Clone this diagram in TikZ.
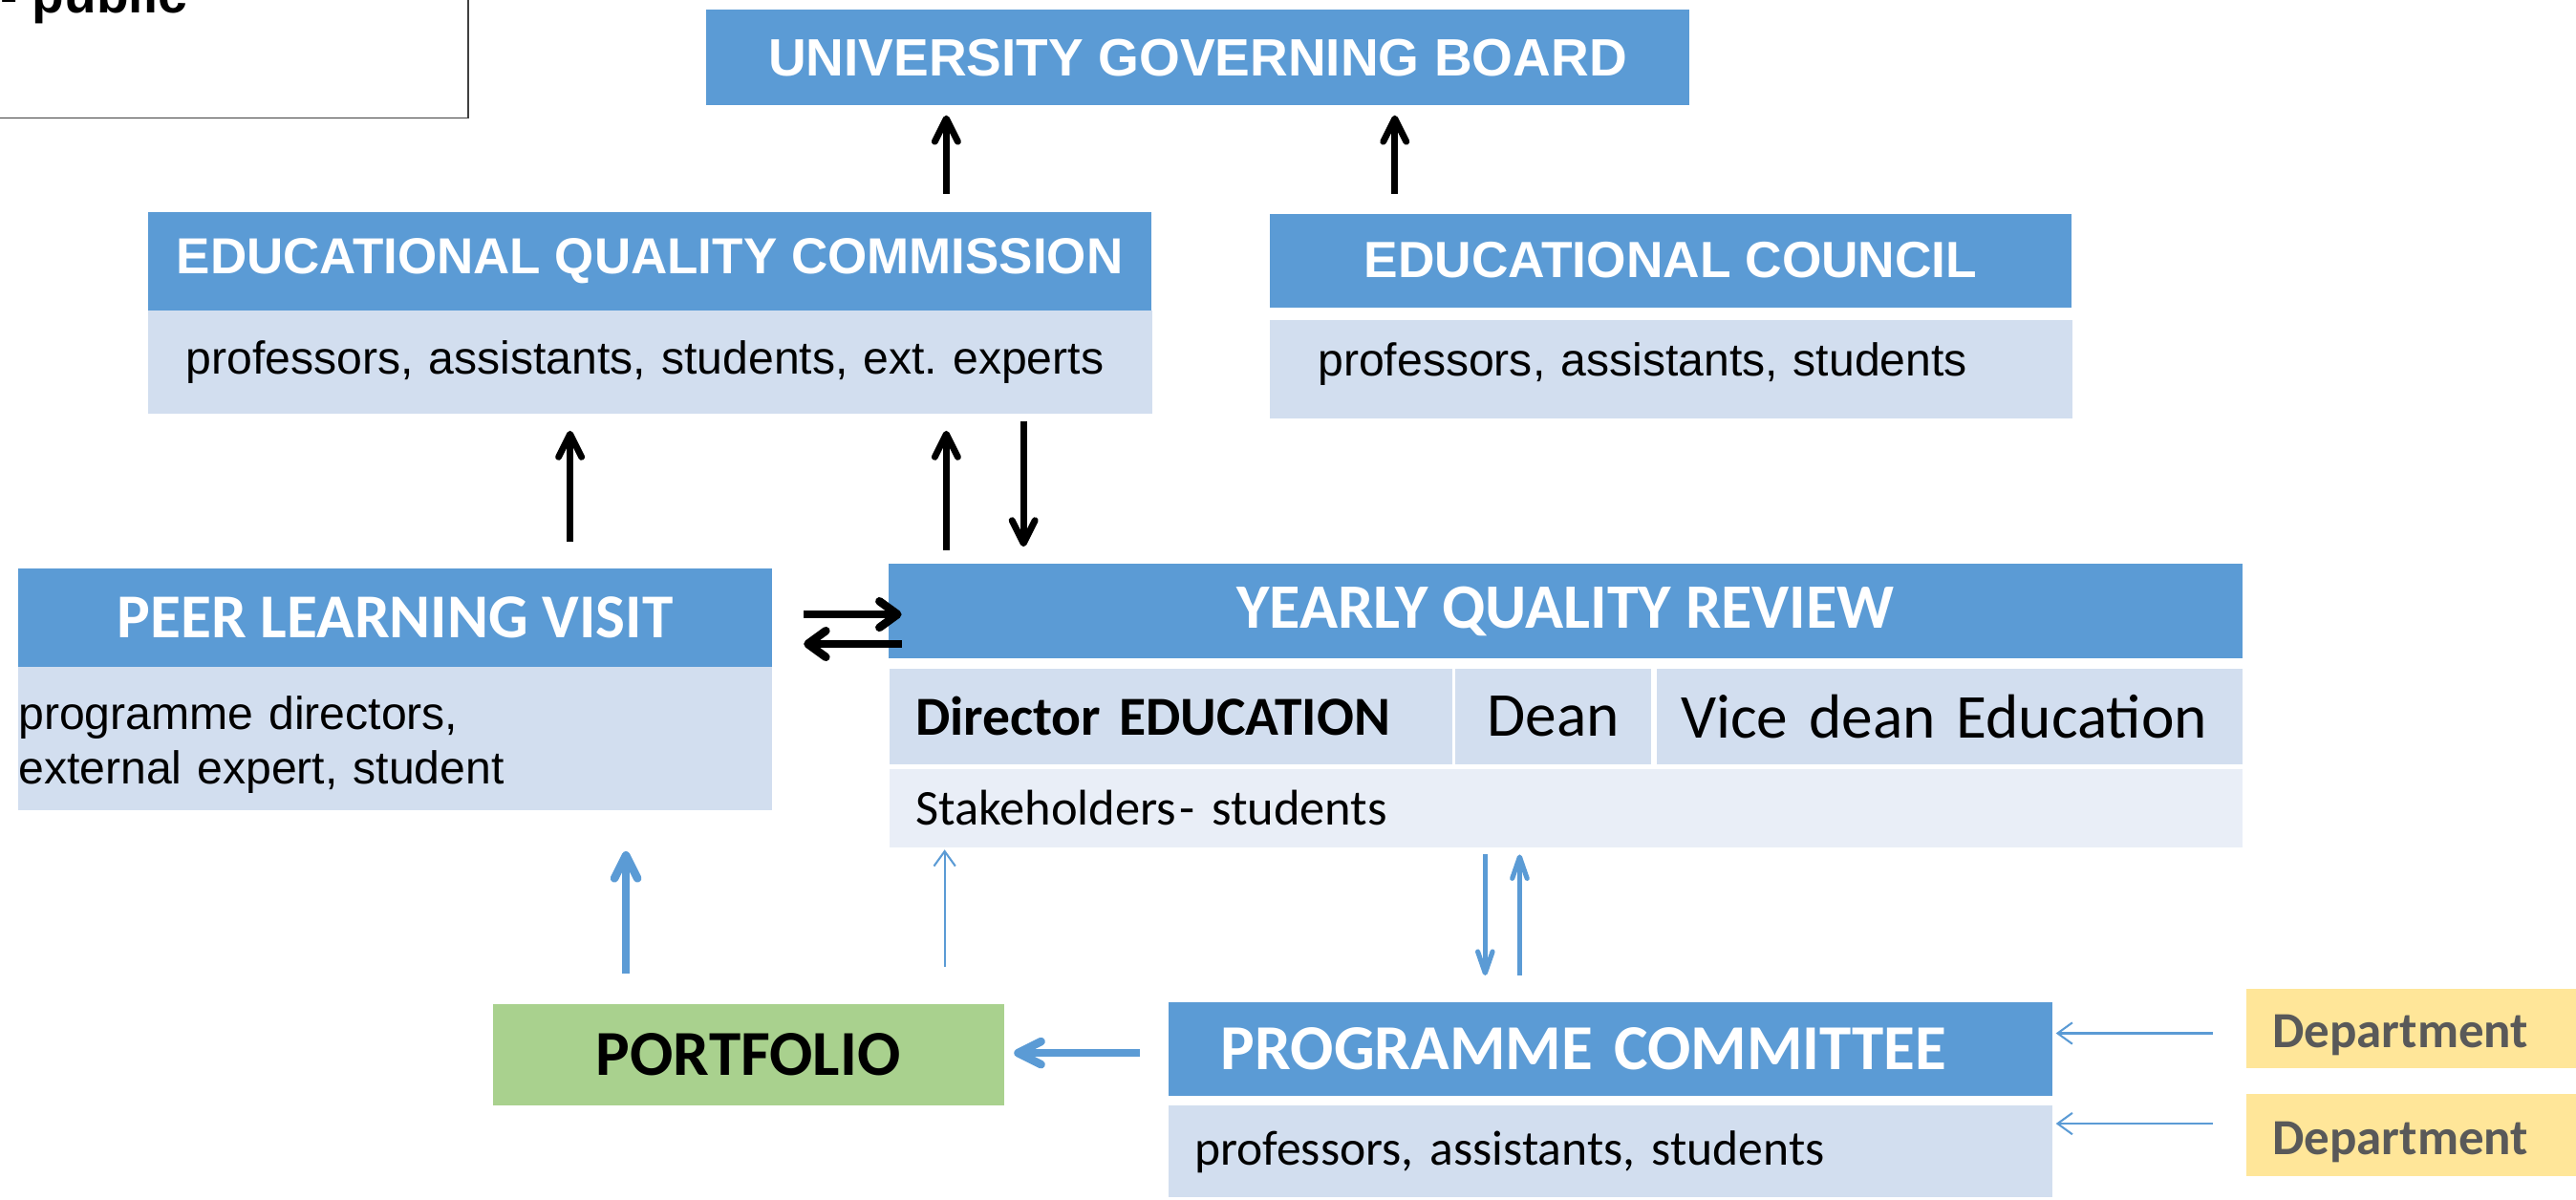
\documentclass[tikz,border=0pt]{standalone}
\usepackage{fontspec}
\setmainfont{Liberation Sans}
\newfontfamily\calibri{Carlito}
\usetikzlibrary{arrows.meta}
\definecolor{hblue}{HTML}{5B9BD5}
\definecolor{lblue}{HTML}{D2DEEF}
\definecolor{pblue}{HTML}{E9EEF7}
\definecolor{lgreen}{HTML}{A9D18E}
\definecolor{lyellow}{HTML}{FFE699}
\definecolor{dgray}{HTML}{595959}
\newcommand{\fs}[1]{\fontsize{#1}{#1}\selectfont}

\begin{document}
\begin{tikzpicture}[x=1pt,y=-1pt,
  header/.style={fill=hblue, text=white, font=\bfseries, inner sep=0pt},
  member/.style={fill=lblue, inner sep=0pt},
  dept/.style={fill=lyellow, minimum width=210, text width=194, inner xsep=16pt, inner ysep=0pt, anchor=west, text=dgray, text height=30pt, text depth=6pt, font=\calibri\fs{30.8}\bfseries},
  blk/.style={draw, line width=4pt, -{Straight Barb[length=14pt,width=14pt,round]}},
  blkw/.style={draw, line width=5pt, -{Straight Barb[length=11pt,width=16pt,round]}},
  bluew/.style={draw=hblue, line width=5pt, -{Straight Barb[length=14pt,width=14pt,round]}},
  bluem/.style={draw=hblue, line width=3pt, -{Straight Barb[length=13pt,width=9pt,round]}},
  bluen/.style={draw=hblue, line width=1.2pt, -{Straight Barb[length=9pt,width=13pt]}}]
\useasboundingbox (0,0) rectangle (1568,730);
\clip (0,0) rectangle (1568,730);

\node[draw=black!75, line width=0.8pt, minimum width=290, minimum height=130, inner sep=0pt] (0) at (140,7) {};
\node[anchor=base west, font=\fs{32}\bfseries, inner sep=0pt] (pub) at (0,8) {- public};

\node[header, minimum width=598, minimum height=58, font=\fs{32}\bfseries] (1) at (729,35) {UNIVERSITY GOVERNING BOARD};

\node[header, minimum width=611, minimum height=60, font=\fs{30.8}\bfseries] (2) at (395.5,159) {EDUCATIONAL QUALITY COMMISSION};
\node[member, minimum height=63, text width=565, inner xsep=23pt, anchor=west, font=\fs{28}] (3) at (90,220.5) {professors, assistants, students, ext.\ experts};

\node[header, minimum width=488, minimum height=57, font=\fs{31}\bfseries] (4) at (1017,158.5) {EDUCATIONAL COUNCIL};
\node[member, minimum height=60, text width=430, inner xsep=29pt, text depth=12pt, anchor=west, font=\fs{28}] (5) at (773,225) {professors, assistants, students};

\node[header, minimum width=459, minimum height=60, font=\calibri\fs{38}\bfseries] (6) at (240.5,376) {PEER LEARNING VISIT};
\node[member, minimum height=87, text width=459, text height=28pt, anchor=west, font=\fs{28}] (7) at (11,449.5) {programme directors,\\[5pt]external expert, student};

\node[header, minimum width=824, minimum height=58, font=\calibri\fs{38.5}\bfseries] (8) at (953,372) {YEARLY QUALITY REVIEW};
\node[member, minimum height=58, text width=311, inner xsep=16pt, anchor=west, font=\calibri\fs{33.5}\bfseries] (9) at (541,436) {Director EDUCATION};
\node[member, minimum height=58, minimum width=119, font=\calibri\fs{38}] (10) at (945.5,436) {Dean};
\node[member, minimum height=58, text width=327, inner xsep=15pt, anchor=west, font=\calibri\fs{38}] (11) at (1008,436) {Vice dean Education};
\node[member, fill=pblue, minimum height=48, text width=792, inner xsep=16pt, anchor=west, font=\calibri\fs{30.5}] (12) at (541,492) {Stakeholders\kern2pt- students};

\node[fill=lgreen, minimum width=311, minimum height=62, inner sep=0pt, font=\calibri\fs{39}\bfseries] (13) at (455.5,642) {PORTFOLIO};

\node[header, minimum height=57, text width=474, inner xsep=32pt, anchor=west, font=\calibri\fs{39}\bfseries] (14) at (711,638.5) {PROGRAMME COMMITTEE};
\node[member, minimum height=56, text width=506, inner xsep=16pt, anchor=west, font=\calibri\fs{30}] (15) at (711,701) {professors, assistants, students};

\node[dept, minimum height=48] (16) at (1367,626) {Department};
\node[dept, minimum height=50] (17) at (1367,691) {Department};

% arrow lines
\coordinate (xa) at (576,0);
\coordinate (xb) at (849,0);
\coordinate (xc) at (347,0);
\coordinate (xe) at (623,0);
\coordinate (xh) at (381,0);
\coordinate (xi) at (575,0);
\coordinate (xj) at (904,0);
\coordinate (xk) at (925,0);
\coordinate (ya) at (0,374);
\coordinate (yb) at (0,392);
\coordinate (yl) at (0,641);
\coordinate (ym) at (0,629);
\coordinate (yn) at (0,684);

\path[blk, shorten <=11pt, shorten >=6pt] (2.north -| xa) -- (1.south -| xa);
\path[blk, shorten <=12pt, shorten >=6pt] (4.north -| xb) -- (1.south -| xb);
\path[blk, shorten <=16pt, shorten >=10pt] (6.north -| xc) -- (3.south -| xc);
\path[blk, shorten <=8pt, shorten >=10pt] (8.north -| xa) -- (3.south -| xa);
\path[blk, shorten <=4pt, shorten >=10pt] (3.south -| xe) -- (8.north -| xe);
\path[blkw, shorten <=19pt, shorten >=-8pt] (6.east |- ya) -- (8.west |- ya);
\path[blkw, shorten <=-8pt, shorten >=19pt] (8.west |- yb) -- (6.east |- yb);

\path[bluew, shorten <=18pt, shorten >=25pt] (13.north -| xh) -- (7.south -| xh);
\path[bluen, shorten <=22pt, shorten >=1pt] (13.north -| xi) -- (12.south -| xi);
\path[bluem, shorten <=4pt, shorten >=16pt] (12.south -| xj) -- (14.north -| xj);
\path[bluem, shorten <=16pt, shorten >=4pt] (14.north -| xk) -- (12.south -| xk);
\path[bluew, shorten <=17pt, shorten >=6pt] (14.west |- yl) -- (13.east |- yl);
\path[bluen, shorten <=20pt, shorten >=2pt] (16.west |- ym) -- (14.east |- ym);
\path[bluen, shorten <=20pt, shorten >=2pt] (17.west |- yn) -- (15.east |- yn);
\end{tikzpicture}
\end{document}
